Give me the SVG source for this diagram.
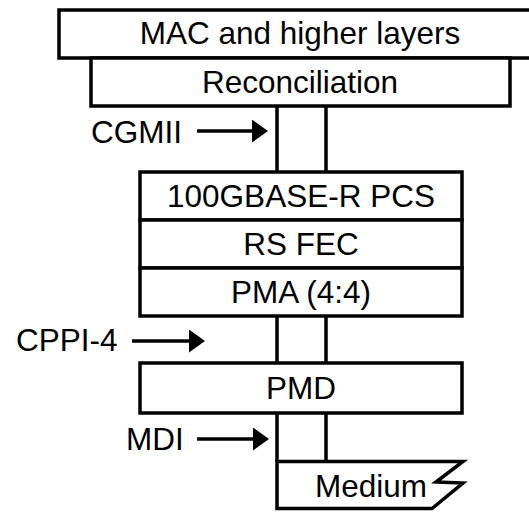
<svg xmlns="http://www.w3.org/2000/svg" width="529" height="512" viewBox="0 0 529 512">
  <defs>
    <style>
      .box { fill: #ffffff; stroke: #000000; stroke-width: 3.5; stroke-linejoin: miter; }
      .wire { fill: none; stroke: #000000; stroke-width: 3.5; }
      .arrow { fill: none; stroke: #000000; stroke-width: 3.5; }
      .lbl { font-family: "Liberation Sans", Arial, sans-serif; font-size: 31.5px; fill: #000000; }
      .mid { text-anchor: middle; }
    </style>
    <marker id="head" markerUnits="userSpaceOnUse" markerWidth="17" markerHeight="24" refX="0" refY="11.5" orient="auto">
      <path d="M0,0 L16,11.5 L0,23 Z" fill="#000000"/>
    </marker>
  </defs>
  <rect width="529" height="512" fill="#ffffff"/>

  <g id="connectors">
    <line class="wire" x1="277" y1="106" x2="277" y2="172"/>
    <line class="wire" x1="326" y1="106" x2="326" y2="172"/>
    <line class="wire" x1="277" y1="316" x2="277" y2="363"/>
    <line class="wire" x1="326" y1="316" x2="326" y2="363"/>
    <line class="wire" x1="277" y1="413" x2="277" y2="461.5"/>
    <line class="wire" x1="326" y1="413" x2="326" y2="461.5"/>
    <line class="arrow" x1="197" y1="131" x2="252" y2="131" marker-end="url(#head)"/>
    <line class="arrow" x1="132" y1="341" x2="189" y2="341" marker-end="url(#head)"/>
    <line class="arrow" x1="197" y1="439" x2="253" y2="439" marker-end="url(#head)"/>
  </g>

  <g id="mac">
    <rect class="box" x="59" y="10" width="486" height="48"/>
    <text class="lbl mid" x="300" y="44">MAC and higher layers</text>
  </g>
  <g id="reconciliation">
    <rect class="box" x="91" y="58" width="419" height="48"/>
    <text class="lbl mid" x="300" y="92.5">Reconciliation</text>
  </g>
  <g id="pcs">
    <rect class="box" x="140" y="172" width="322" height="48"/>
    <text class="lbl mid" x="301" y="207">100GBASE-R PCS</text>
  </g>
  <g id="rsfec">
    <rect class="box" x="140" y="220" width="322" height="48"/>
    <text class="lbl mid" x="301" y="255">RS FEC</text>
  </g>
  <g id="pma">
    <rect class="box" x="140" y="268" width="322" height="48"/>
    <text class="lbl mid" x="301" y="303">PMA (4:4)</text>
  </g>
  <g id="pmd">
    <rect class="box" x="140" y="363" width="322" height="50"/>
    <text class="lbl mid" x="301" y="399">PMD</text>
  </g>
  <g id="medium">
    <path class="box" d="M277,461.5 L463,461.5 L436,482 L463,483 L432,508.5 L277,508.5 Z"/>
    <text class="lbl mid" x="371" y="497">Medium</text>
  </g>

  <g id="cgmii">
    <text class="lbl" x="91" y="143">CGMII</text>
  </g>
  <g id="cppi4">
    <text class="lbl" x="16" y="351">CPPI-4</text>
  </g>
  <g id="mdi">
    <text class="lbl" x="126" y="450">MDI</text>
  </g>
</svg>
